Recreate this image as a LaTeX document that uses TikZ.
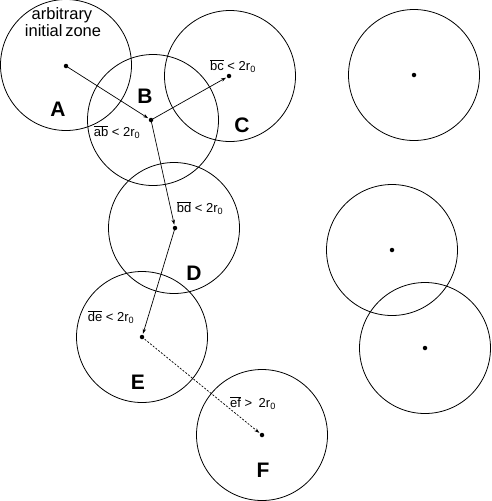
\documentclass[tikz,border=0pt]{standalone}
\usepackage{fontspec}
\setmainfont{Liberation Sans}
\usetikzlibrary{arrows.meta}
\begin{document}
\begin{tikzpicture}[x=1pt,y=-1pt,
  zone/.style={draw,circle,line width=0.8pt,minimum size=131pt,inner sep=0pt},
  ctr/.style={circle,fill,inner sep=0pt,minimum size=4.5pt},
  zlabel/.style={font=\bfseries\fontsize{21}{21}\selectfont},
  dlabel/.style={font=\fontsize{13}{13}\selectfont,inner sep=0pt},
  title/.style={font=\fontsize{16.5}{16.5}\selectfont,inner sep=0pt,anchor=base},
  link/.style={line width=0.7pt,-{Stealth[length=5pt,width=3.5pt]},shorten >=1pt},
  jump/.style={link,dash pattern=on 2pt off 1.5pt}]
\useasboundingbox (0,0) rectangle (491,501);
% zones
\node[zone] (za) at (66,65) {};
\node[zone] (zb) at (153,120) {};
\node[zone] (zc) at (230,76) {};
\node[zone] (zd) at (174,228) {};
\node[zone] (ze) at (142,337) {};
\node[zone] (zf) at (262,435) {};
\node[zone] (zg) at (414,75) {};
\node[zone] (zh) at (392,250) {};
\node[zone] (zi) at (425,348) {};
% centres
\node[ctr] (a) at (66,66) {};
\node[ctr] (b) at (151,120) {};
\node[ctr] (c) at (229,76) {};
\node[ctr] (d) at (175,228) {};
\node[ctr] (e) at (142,337) {};
\node[ctr] (f) at (262,435) {};
\node[ctr] (g) at (414,75) {};
\node[ctr] (h) at (392,250) {};
\node[ctr] (i) at (425,348) {};
% connectors
\draw[link] (a.center) -- (b);
\draw[link] (b.center) -- (c);
\draw[link] (b.center) -- (d);
\draw[link] (d.center) -- (e);
\draw[jump] (e.center) -- (f);
% labels
\node[title] (t1) at (62,19) {arbitrary};
\node[title] (t2) at (63,36) {initial\,zone};
\node[zlabel] (la) at (58,109) {A};
\node[zlabel] (lb) at (145,96) {B};
\node[zlabel] (lc) at (242,125) {C};
\node[zlabel] (ld) at (194,273) {D};
\node[zlabel] (le) at (138,382) {E};
\node[zlabel] (lf) at (263,470) {F};
\node[dlabel] (ab) at (117,132) {$\overline{\mbox{ab}}$ < 2r\textsubscript{0}};
\node[dlabel] (bc) at (233,66) {$\overline{\mbox{bc}}$ < 2r\textsubscript{0}};
\node[dlabel] (bd) at (200,208) {$\overline{\mbox{bd}}$ < 2r\textsubscript{0}};
\node[dlabel] (de) at (111,317) {$\overline{\mbox{de}}$ < 2r\textsubscript{0}};
\node[dlabel] (ef) at (253,403) {$\overline{\mbox{ef}}$ >\enspace 2r\textsubscript{0}};
\end{tikzpicture}
\end{document}
